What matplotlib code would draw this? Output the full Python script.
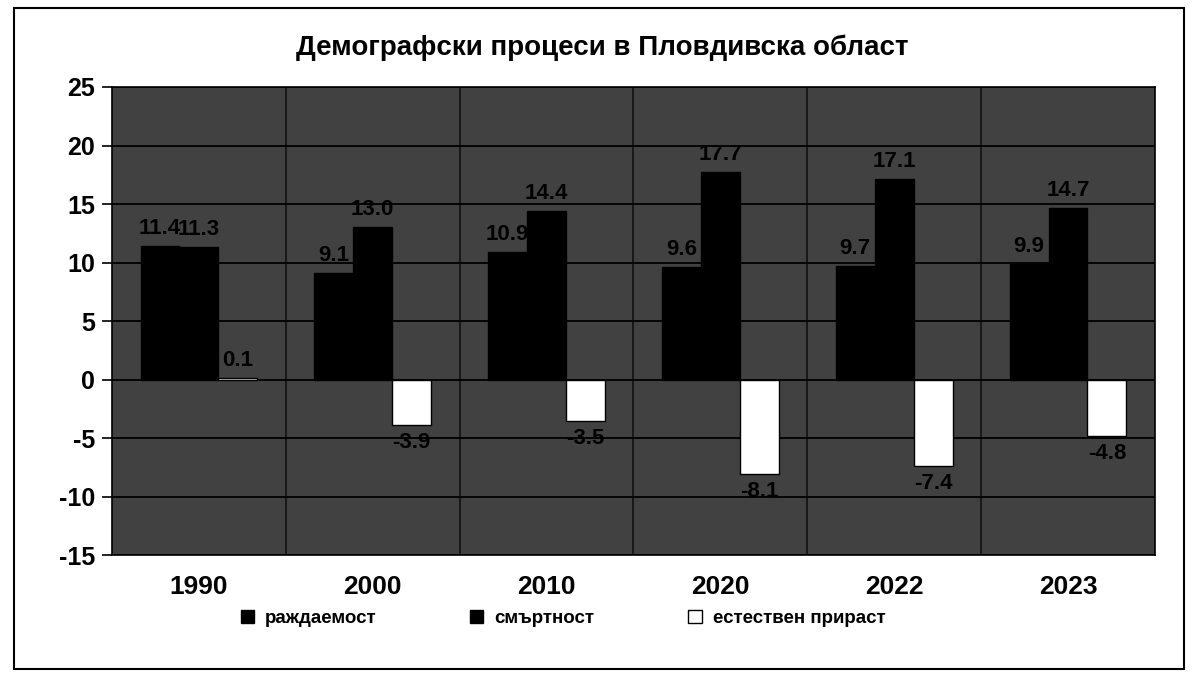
import matplotlib
matplotlib.use("Agg")
import matplotlib.pyplot as plt
import numpy as np
from matplotlib.patches import Rectangle, Patch

plt.rcParams["font.family"] = ["Liberation Sans", "DejaVu Sans"]
plt.rcParams["font.weight"] = "bold"
plt.rcParams["axes.unicode_minus"] = False

years = ["1990", "2000", "2010", "2020", "2022", "2023"]
births = [11.4, 9.1, 10.9, 9.6, 9.7, 9.9]
deaths = [11.3, 13.0, 14.4, 17.7, 17.1, 14.7]
natural = [0.1, -3.9, -3.5, -8.1, -7.4, -4.8]

series_names = ["раждаемост", "смъртност", "естествен прираст"]

fig = plt.figure(figsize=(11.98, 6.77), dpi=100)
ax = fig.add_axes([0.0935, 0.180, 0.8705, 0.6915])
ax.set_facecolor("#414141")

x = np.arange(len(years))
w = 0.224
b1 = ax.bar(x - w, births, w, color="black", edgecolor="black", zorder=3)
b2 = ax.bar(x, deaths, w, color="black", edgecolor="black", zorder=3)
b3 = ax.bar(x + w, natural, w, color="white", edgecolor="black", linewidth=1, zorder=3)

# value labels: above the positive bars, below the negative ones
for bars, vals in ((b1, births), (b2, deaths), (b3, natural)):
    for rect, v in zip(bars, vals):
        cx = rect.get_x() + rect.get_width() / 2
        if v >= 0:
            ax.text(cx, v + 0.6, f"{v:.1f}", ha="center", va="bottom",
                    fontsize=16, fontweight="bold", color="black", zorder=4)
        else:
            ax.text(cx, v - 0.6, f"{v:.1f}", ha="center", va="top",
                    fontsize=16, fontweight="bold", color="black", zorder=4)

ax.set_xlim(-0.5, len(years) - 0.5)
ax.set_ylim(-15, 25)
ax.set_yticks(np.arange(-15, 26, 5))
ax.set_xticks(x)
ax.set_xticklabels(years)
ax.tick_params(axis="y", labelsize=18, length=7, width=1.2, pad=5)
ax.tick_params(axis="x", labelsize=19, length=0, pad=14)
for lab in ax.get_xticklabels() + ax.get_yticklabels():
    lab.set_fontweight("bold")

ax.set_xticks(np.arange(0.5, len(years) - 0.5, 1), minor=True)
ax.tick_params(axis="x", which="minor", length=0)
ax.grid(axis="y", which="major", color="black", linewidth=1.3, zorder=1)
ax.grid(axis="x", which="minor", color="#151515", linewidth=1.3, zorder=1)
ax.set_axisbelow(True)
for s in ax.spines.values():
    s.set_color("black")
    s.set_linewidth(1.2)

fig.text(0.503, 0.93, "Демографски процеси в Пловдивска област",
         ha="center", va="center", fontsize=20, fontweight="bold")

handles = [
    Patch(facecolor="black", edgecolor="black"),
    Patch(facecolor="black", edgecolor="black"),
    Patch(facecolor="white", edgecolor="black"),
]
fig.legend(handles, series_names, loc="center", bbox_to_anchor=(0.47, 0.087),
           ncol=3, frameon=False, handlelength=0.7, handleheight=0.7,
           handletextpad=0.6, columnspacing=5.0, prop={"weight": "bold", "size": 13.5})

# outer frame of the chart
fig.patches.append(Rectangle((0.012, 0.012), 0.976, 0.976, transform=fig.transFigure,
                             fill=False, edgecolor="black", linewidth=1.5))

fig.savefig("out.png", dpi=100)
